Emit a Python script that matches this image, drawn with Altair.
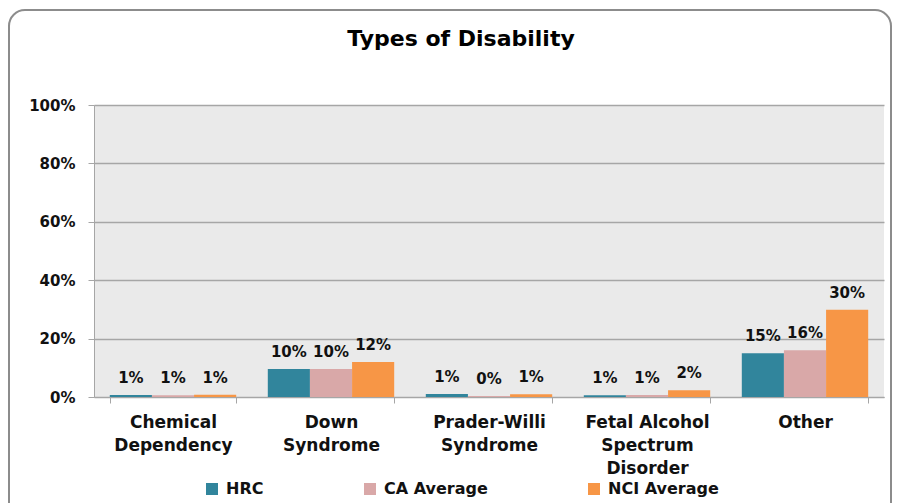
import altair as alt
import pandas as pd

categories = ["Chemical\nDependency", "Down\nSyndrome", "Prader-Willi\nSyndrome",
              "Fetal Alcohol\nSpectrum\nDisorder", "Other"]
series = ["HRC", "CA Average", "NCI Average"]
hrc_values = [0.007, 0.096, 0.010, 0.006, 0.150]
ca_values = [0.006, 0.096, 0.003, 0.007, 0.160]
nci_values = [0.008, 0.120, 0.009, 0.023, 0.299]
series_colors = ["#31859C", "#D9A8A8", "#F79646"]
y_ticks = [0, 0.2, 0.4, 0.6, 0.8, 1.0]
title_text = "Types of Disability"

rows = []
for s, vals in zip(series, [hrc_values, ca_values, nci_values]):
    for c, v in zip(categories, vals):
        rows.append({"category": c, "series": s, "value": v})
df = pd.DataFrame(rows)

FONT = "DejaVu Sans"
TXT = "#111111"
GRID = "#A6A6A6"

x_enc = alt.X(
    "category:N", sort=categories, title=None,
    scale=alt.Scale(paddingInner=0.2, paddingOuter=0.1),
    axis=alt.Axis(
        labelExpr="split(datum.label, '\\n')",
        labelAngle=0, labelAlign="center", labelBaseline="top",
        labelFont=FONT, labelFontSize=17, labelFontWeight="bold", labelColor=TXT,
        labelLineHeight=23, labelPadding=11,
        tickBand="extent", tickSize=6, tickColor=GRID, domainColor=GRID,
        grid=False,
    ),
)
y_enc = alt.Y(
    "value:Q", title=None,
    scale=alt.Scale(domain=[0, 1]),
    axis=alt.Axis(
        values=y_ticks, format=".0%",
        labelFont=FONT, labelFontSize=15, labelFontWeight="bold", labelColor=TXT,
        labelPadding=13, tickSize=6, tickColor=GRID, domainColor=GRID,
        grid=True, gridColor=GRID, gridWidth=1.3,
    ),
)
color_enc = alt.Color(
    "series:N", sort=series,
    scale=alt.Scale(domain=series, range=series_colors),
    legend=alt.Legend(
        title=None, orient="none", legendX=110, legendY=376,
        direction="horizontal", columnPadding=98,
        symbolType="square", symbolSize=144, symbolStrokeWidth=0,
        labelFont=FONT, labelFontSize=16, labelFontWeight="bold", labelColor=TXT,
        labelOffset=6,
    ),
)
xoff = alt.XOffset("series:N", sort=series, scale=alt.Scale(paddingInner=0, paddingOuter=0))

bars = alt.Chart(df).mark_bar().encode(x=x_enc, y=y_enc, color=color_enc, xOffset=xoff)
labels = alt.Chart(df).mark_text(
    font=FONT, fontSize=15, fontWeight="bold", color=TXT,
    baseline="alphabetic", dy=-12,
).encode(
    x=alt.X("category:N", sort=categories),
    y=alt.Y("value:Q"),
    xOffset=xoff,
    text=alt.Text("value:Q", format=".0%"),
)

frame = alt.Chart(alt.Data(values=[{"frame": 1}])).mark_rect(
    fill="transparent", stroke="#8C8C8C", strokeWidth=2, cornerRadius=16,
).encode(
    x=alt.value(-85), x2=alt.value(797), y=alt.value(-95), y2=alt.value(430),
)

chart = alt.layer(bars, labels, frame).properties(
    width=790, height=292,
    autosize=alt.AutoSizeParams(type="none"),
    padding={"left": 86, "top": 97, "right": 8, "bottom": 106},
    title=alt.TitleParams(
        title_text, font=FONT, fontSize=22, fontWeight="bold", color="#000000",
        anchor="middle", dx=-28, offset=-59, baseline="alphabetic",
    ),
    background="white",
).configure_view(stroke=None, fill="#EAEAEA")

chart.save("out.html", embed_options={"renderer": "svg", "actions": False})
